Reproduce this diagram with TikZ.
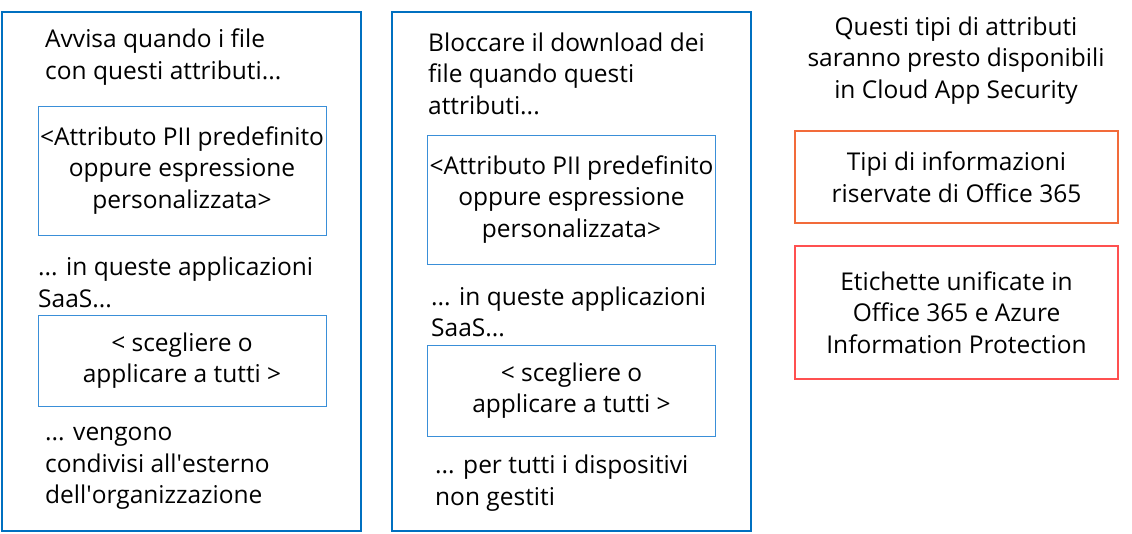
\documentclass[tikz,border=0pt]{standalone}
\usepackage{fontspec}
\setmainfont{Open Sans}
\usepackage{tikz}

\definecolor{outerblue}{HTML}{0070C0}
\definecolor{innerblue}{HTML}{3A8FD8}
\definecolor{boxorange}{HTML}{F26B3A}
\definecolor{boxred}{HTML}{FF5050}

\tikzset{
  outerbox/.style={draw=outerblue, line width=2.5pt, minimum width=359pt, minimum height=519pt, inner sep=0pt},
  innerbox/.style={draw=innerblue, line width=1pt, minimum width=288pt, minimum height=129pt, inner sep=0pt, align=center, font=\txt},
  rightbox/.style={line width=1.2pt, minimum width=323pt, inner sep=0pt, align=center, font=\txt},
  lbl/.style={anchor=west, inner sep=0pt, align=left, font=\txt}
}
\newcommand{\txt}{\fontsize{24.5}{31.5}\selectfont}

\begin{document}
\begin{tikzpicture}[x=1pt, y=-1pt]
\useasboundingbox (0,0) rectangle (1132,533);

% left column
\node[outerbox] (warn) at (181.5,271.5) {};
\node[lbl] (warntop) at (45,57) {Avvisa quando i file\\con questi attributi...};
\node[innerbox] (warnattr) at (182,170.5) {<Attributo PII predefinito\\oppure espressione\\personalizzata>};
\node[lbl] (warnapps) at (38,282.5) {... in queste applicazioni\\SaaS...};
\node[innerbox, minimum height=91pt] (warnsel) at (182,360.5) {< scegliere o\\applicare a tutti >};
\node[lbl] (warnshare) at (45,468.5) {... vengono\\condivisi all\textquotesingle esterno\\dell\textquotesingle organizzazione};

% middle column
\node[outerbox] (block) at (571.5,271.5) {};
\node[lbl] (blocktop) at (428,73.5) {Bloccare il download dei\\file quando questi\\attributi...};
\node[innerbox] (blockattr) at (571.5,199.5) {<Attributo PII predefinito\\oppure espressione\\personalizzata>};
\node[lbl] (blockapps) at (431,312) {... in queste applicazioni\\SaaS...};
\node[innerbox, minimum height=91pt] (blocksel) at (571.5,390.5) {< scegliere o\\applicare a tutti >};
\node[lbl] (blockdev) at (435,483) {... per tutti i dispositivi\\non gestiti};

% right column
\node[align=center, inner sep=0pt, font=\txt] (soon) at (956,60.5) {Questi tipi di attributi\\saranno presto disponibili\\in Cloud App Security};
\node[rightbox, draw=boxorange, minimum height=92pt] (o365) at (956.5,177) {Tipi di informazioni\\riservate di Office 365};
\node[rightbox, draw=boxred, minimum height=133pt] (labels) at (956.5,312.5) {Etichette unificate in\\Office 365 e Azure\\Information Protection};

\end{tikzpicture}
\end{document}
